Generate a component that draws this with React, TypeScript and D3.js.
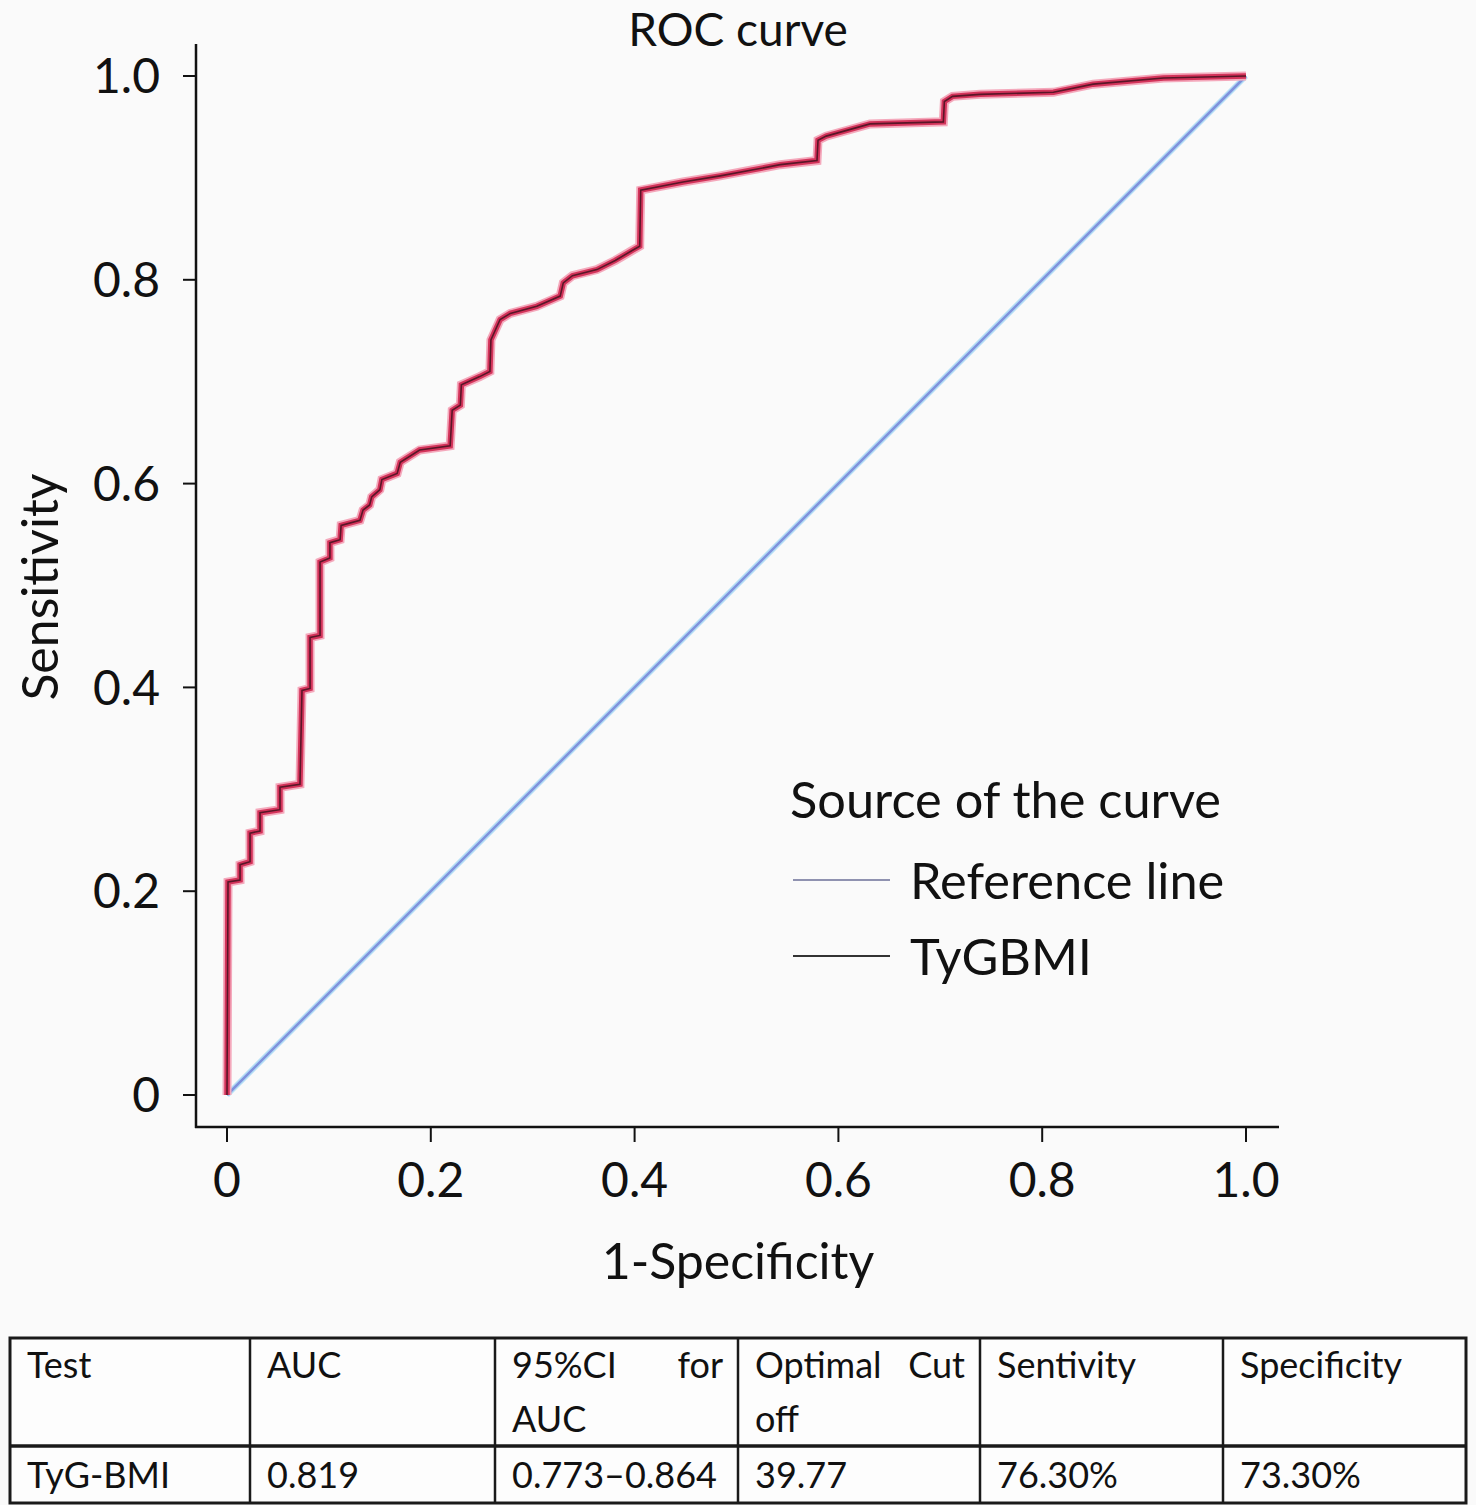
import React from "react";
import * as d3 from "d3";

const fprValues = [0, 0.001, 0.0128, 0.0128, 0.0226, 0.0226, 0.0324, 0.0324, 0.052, 0.052, 0.0716, 0.0736, 0.0815, 0.0815, 0.0913, 0.0913, 0.101, 0.101, 0.111, 0.112, 0.1305, 0.1335, 0.14, 0.142, 0.15, 0.152, 0.167, 0.17, 0.189, 0.219, 0.221, 0.229, 0.23, 0.248, 0.258, 0.259, 0.268, 0.278, 0.304, 0.327, 0.33, 0.339, 0.363, 0.381, 0.398, 0.405, 0.406, 0.4475, 0.484, 0.543, 0.579, 0.58, 0.588, 0.631, 0.703, 0.704, 0.712, 0.739, 0.811, 0.85, 0.919, 1.0];
const tprValues = [0, 0.209, 0.211, 0.226, 0.229, 0.257, 0.259, 0.277, 0.28, 0.302, 0.305, 0.397, 0.399, 0.449, 0.451, 0.523, 0.527, 0.542, 0.545, 0.559, 0.564, 0.574, 0.579, 0.587, 0.594, 0.604, 0.61, 0.621, 0.633, 0.637, 0.672, 0.677, 0.697, 0.705, 0.71, 0.741, 0.761, 0.767, 0.774, 0.784, 0.797, 0.804, 0.81, 0.819, 0.829, 0.833, 0.888, 0.896, 0.902, 0.913, 0.917, 0.937, 0.941, 0.953, 0.955, 0.975, 0.98, 0.982, 0.984, 0.992, 0.998, 1.0];
const refLine = [[0, 0], [1, 1]];
const ticks = [0, 0.2, 0.4, 0.6, 0.8, 1.0];
const tickLabels = ["0", "0.2", "0.4", "0.6", "0.8", "1.0"];
const legendItems = ["Reference line", "TyGBMI"];

const tableHeader = [["Test"], ["AUC"], ["95%CI", "for", "AUC"], ["Optimal", "Cut", "off"], ["Sentivity"], ["Specificity"]];
const tableRow = ["TyG-BMI", "0.819", "0.773\u20130.864", "39.77", "76.30%", "73.30%"];

const FONT = "Lato, 'Open Sans', sans-serif";

export default function App() {
  const x = d3.scaleLinear().domain([0, 1]).range([227, 1246]);
  const y = d3.scaleLinear().domain([0, 1]).range([1095, 76]);
  const pts: [number, number][] = fprValues.map((f, i) => [f, tprValues[i]]);
  const line = d3.line<[number, number]>().x((d) => x(d[0])).y((d) => y(d[1]));
  const rocPath = line(pts) || "";
  const refPath = line(refLine as [number, number][]) || "";

  const colX = [10, 250, 495, 738, 980, 1223, 1466];
  const tTop = 1338, tMid = 1446, tBot = 1503;
  const tfs = 36;

  return (
    <svg width={1476} height={1505} style={{ position: "absolute", left: 0, top: 0, background: "#fafafa" }} fontFamily={FONT}>
      <rect x={0} y={0} width={1476} height={1505} fill="#fafafa" />
      {/* title */}
      <text x={738} y={46} textAnchor="middle" fontSize={46} fill="#111">ROC curve</text>

      {/* axes */}
      <line x1={196} y1={44} x2={196} y2={1128} stroke="#111" strokeWidth={2.5} />
      <line x1={195} y1={1127} x2={1279} y2={1127} stroke="#111" strokeWidth={2.5} />
      {ticks.map((t, i) => (
        <g key={"y" + i}>
          <line x1={183} x2={196} y1={y(t)} y2={y(t)} stroke="#111" strokeWidth={2} />
          <text x={160} y={y(t)} dy="0.36em" textAnchor="end" fontSize={48} fill="#111">{tickLabels[i]}</text>
        </g>
      ))}
      {ticks.map((t, i) => (
        <g key={"x" + i}>
          <line x1={x(t)} x2={x(t)} y1={1128} y2={1142} stroke="#111" strokeWidth={2} />
          <text x={x(t)} y={1197} textAnchor="middle" fontSize={48} fill="#111">{tickLabels[i]}</text>
        </g>
      ))}
      <text x={738} y={1279} textAnchor="middle" fontSize={50} fill="#111">1-Specificity</text>
      <text transform="translate(58,587) rotate(-90)" textAnchor="middle" fontSize={50} fill="#111">Sensitivity</text>

      {/* reference line */}
      <path d={refPath} fill="none" stroke="#b4def6" strokeWidth={5.5} />
      <path d={refPath} fill="none" stroke="#7f92dc" strokeWidth={2.6} />

      {/* ROC curve */}
      <path d={rocPath} fill="none" stroke="#f4a9bc" strokeWidth={9} strokeLinejoin="miter" />
      <path d={rocPath} fill="none" stroke="#d3335a" strokeWidth={5.5} strokeLinejoin="miter" />
      <path d={rocPath} fill="none" stroke="#5a1628" strokeWidth={1.6} strokeLinejoin="miter" />

      {/* legend */}
      <text x={790} y={818} fontSize={50.5} fill="#111">Source of the curve</text>
      <line x1={793} x2={890} y1={880} y2={880} stroke="#8f92b0" strokeWidth={2} />
      <text x={910} y={899} fontSize={50.5} fill="#111">{legendItems[0]}</text>
      <line x1={793} x2={890} y1={956} y2={956} stroke="#333" strokeWidth={2.2} />
      <text x={910} y={975} fontSize={50.5} fill="#111">{legendItems[1]}</text>

      {/* table */}
      <rect x={colX[0]} y={tTop} width={colX[6] - colX[0]} height={tBot - tTop} fill="#fdfdfd" stroke="#1a1a1a" strokeWidth={3} />
      <line x1={colX[0]} x2={colX[6]} y1={tMid} y2={tMid} stroke="#1a1a1a" strokeWidth={3.5} />
      {colX.slice(1, 6).map((cx, i) => (
        <line key={"c" + i} x1={cx} x2={cx} y1={tTop} y2={tBot} stroke="#1a1a1a" strokeWidth={2.5} />
      ))}
      {tableHeader.map((cell, i) => {
        const left = colX[i] + 17;
        const right = colX[i + 1] - 15;
        if (cell.length === 1) {
          return <text key={"h" + i} x={left} y={1378} fontSize={tfs} fill="#111">{cell[0]}</text>;
        }
        return (
          <g key={"h" + i}>
            <text x={left} y={1378} fontSize={tfs} fill="#111">{cell[0]}</text>
            <text x={right} y={1378} fontSize={tfs} textAnchor="end" fill="#111">{cell[1]}</text>
            <text x={left} y={1432} fontSize={tfs} fill="#111">{cell[2]}</text>
          </g>
        );
      })}
      {tableRow.map((v, i) => (
        <text key={"r" + i} x={colX[i] + 17} y={1488} fontSize={tfs} fill="#111">{v}</text>
      ))}
    </svg>
  );
}
